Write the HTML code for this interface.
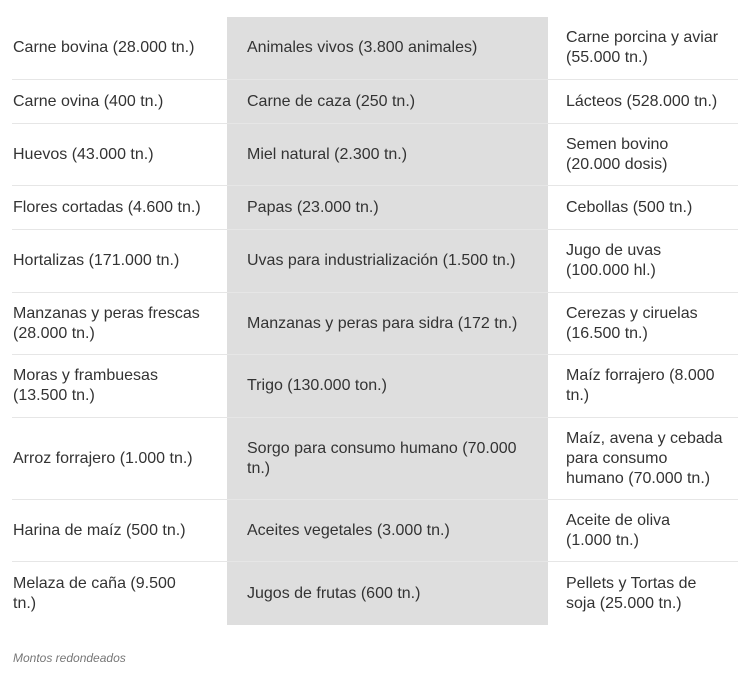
<!DOCTYPE html>
<html><head><meta charset="utf-8"><style>
body{margin:0;width:750px;height:687px;background:#fff;font-family:"Liberation Sans",Arial,sans-serif;color:#333;position:relative;overflow:hidden}
.g{position:absolute;left:227px;top:17px;width:321px;height:608px;background:#dedede}
.r{position:absolute;left:12px;width:726px;border-bottom:1px solid #e6e6e6;box-sizing:border-box}
.r.last{border-bottom:none}
.c{position:absolute;top:0;bottom:0;display:flex;align-items:center;font-size:16px;line-height:20px}
.c1{left:1px;width:198px}.c2{left:235px;width:284px}.c3{left:554px;width:172px}
.f{position:absolute;left:13px;top:651px;font-size:12px;font-style:italic;color:#777}
</style></head><body>
<div class="g"></div>
<div class="r" style="top:17px;height:63px"><div class="c c1">Carne bovina (28.000 tn.)</div><div class="c c2">Animales vivos (3.800 animales)</div><div class="c c3">Carne porcina y aviar<br>(55.000 tn.)</div></div>
<div class="r" style="top:80px;height:44px"><div class="c c1">Carne ovina (400 tn.)</div><div class="c c2">Carne de caza (250 tn.)</div><div class="c c3">Lácteos (528.000 tn.)</div></div>
<div class="r" style="top:124px;height:62px"><div class="c c1">Huevos (43.000 tn.)</div><div class="c c2">Miel natural (2.300 tn.)</div><div class="c c3">Semen bovino<br>(20.000 dosis)</div></div>
<div class="r" style="top:186px;height:44px"><div class="c c1">Flores cortadas (4.600 tn.)</div><div class="c c2">Papas (23.000 tn.)</div><div class="c c3">Cebollas (500 tn.)</div></div>
<div class="r" style="top:230px;height:63px"><div class="c c1">Hortalizas (171.000 tn.)</div><div class="c c2">Uvas para industrialización (1.500 tn.)</div><div class="c c3">Jugo de uvas<br>(100.000 hl.)</div></div>
<div class="r" style="top:293px;height:62px"><div class="c c1">Manzanas y peras frescas<br>(28.000 tn.)</div><div class="c c2">Manzanas y peras para sidra (172 tn.)</div><div class="c c3">Cerezas y ciruelas<br>(16.500 tn.)</div></div>
<div class="r" style="top:355px;height:63px"><div class="c c1">Moras y frambuesas<br>(13.500 tn.)</div><div class="c c2">Trigo (130.000 ton.)</div><div class="c c3">Maíz forrajero (8.000<br>tn.)</div></div>
<div class="r" style="top:418px;height:82px"><div class="c c1">Arroz forrajero (1.000 tn.)</div><div class="c c2">Sorgo para consumo humano (70.000<br>tn.)</div><div class="c c3">Maíz, avena y cebada<br>para consumo<br>humano (70.000 tn.)</div></div>
<div class="r" style="top:500px;height:62px"><div class="c c1">Harina de maíz (500 tn.)</div><div class="c c2">Aceites vegetales (3.000 tn.)</div><div class="c c3">Aceite de oliva<br>(1.000 tn.)</div></div>
<div class="r last" style="top:562px;height:63px"><div class="c c1">Melaza de caña (9.500<br>tn.)</div><div class="c c2">Jugos de frutas (600 tn.)</div><div class="c c3">Pellets y Tortas de<br>soja (25.000 tn.)</div></div>
<div class="f">Montos redondeados</div>
</body></html>
